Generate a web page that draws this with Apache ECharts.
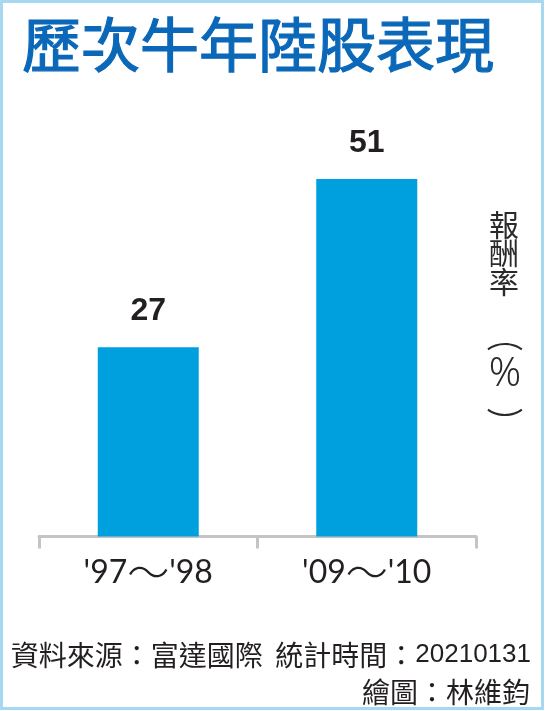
<!DOCTYPE html>
<html><head><meta charset="utf-8">
<script src="https://cdn.jsdelivr.net/npm/echarts@6/dist/echarts.min.js"></script>
<style>html,body{margin:0;padding:0;background:#fff}#c{width:545px;height:711px}</style>
</head><body><div id="c"></div>
<script>
const categories = ["'97～'98", "'09～'10"];
const returns = [27, 51];
const titleText = '歷次牛年陸股表現';
const unitChars = '報\n酬\n率';
const unitPercent = '%';
const sourceCjk = '資料來源：富達國際  統計時間：';
const sourceDate = '20210131';
const creditText = '繪圖：林維鈞';

const CJK = 'Noto Sans CJK TC';
const chart = echarts.init(document.getElementById('c'));
chart.setOption({
  animation: false,
  backgroundColor: '#fff',
  title: {
    text: titleText, left: 17, top: 10,
    textStyle: {fontFamily: CJK, fontSize: 59, fontWeight: 'normal', color: '#0b68b8',
      textBorderColor: '#0b68b8', textBorderWidth: 1.2}
  },
  grid: {left: 39, right: 69, top: 116, bottom: 174.5},
  xAxis: {
    type: 'category', data: categories,
    axisLine: {lineStyle: {color: '#c4c4c4', width: 3}},
    axisTick: {show: true, length: 12, lineStyle: {color: '#c4c4c4', width: 3}},
    axisLabel: {
      margin: 18,
      formatter: v => v.replace('～', '{t|～}'),
      fontFamily: 'Lato', fontSize: 32, color: '#231f20', lineHeight: 36,
      rich: {t: {fontFamily: CJK, fontSize: 42, fontWeight: 300, color: '#231f20', lineHeight: 36}}
    }
  },
  yAxis: {type: 'value', min: 0, max: 60, show: false},
  series: [{
    type: 'bar', data: returns, barWidth: 101,
    itemStyle: {color: '#00a0df'},
    label: {show: true, position: 'top', distance: 20, fontFamily: 'Liberation Sans', fontWeight: 'bold', fontSize: 32, color: '#231f20'}
  }],
  graphic: [
    {type: 'rect', shape: {x: 1.5, y: 1.5, width: 541, height: 707}, style: {fill: 'none', stroke: '#a6d8f2', lineWidth: 3}},
    {type: 'text', x: 504, y: 210, style: {text: unitChars, fontFamily: CJK, fontSize: 30, fontWeight: 'normal', lineHeight: 28.5, fill: '#2a2a2a', align: 'center', verticalAlign: 'top'}},
    {type: 'text', x: 505, y: 337, scaleX: 1.15, scaleY: 0.9, style: {text: '︵', fontFamily: CJK, fontSize: 32, fontWeight: 'normal', fill: '#2a2a2a', align: 'center', verticalAlign: 'middle'}},
    {type: 'text', x: 505, y: 375, style: {text: unitPercent, fontFamily: 'Noto Sans', fontSize: 40, fontWeight: 300, fill: '#2a2a2a', align: 'center', verticalAlign: 'middle'}},
    {type: 'text', x: 505, y: 422, scaleX: 1.15, scaleY: 0.9, style: {text: '︶', fontFamily: CJK, fontSize: 32, fontWeight: 'normal', fill: '#2a2a2a', align: 'center', verticalAlign: 'middle'}},
    {type: 'text', x: 531, y: 655, style: {
      text: sourceCjk + '{d|' + sourceDate + '}', fontFamily: CJK, fontSize: 28, fill: '#231f20', align: 'right', verticalAlign: 'middle',
      rich: {d: {fontFamily: 'Liberation Sans', fontSize: 26, fill: '#231f20'}}
    }},
    {type: 'text', x: 530, y: 692, style: {text: creditText, fontFamily: CJK, fontSize: 28, fill: '#231f20', align: 'right', verticalAlign: 'middle'}}
  ]
});
</script></body></html>
